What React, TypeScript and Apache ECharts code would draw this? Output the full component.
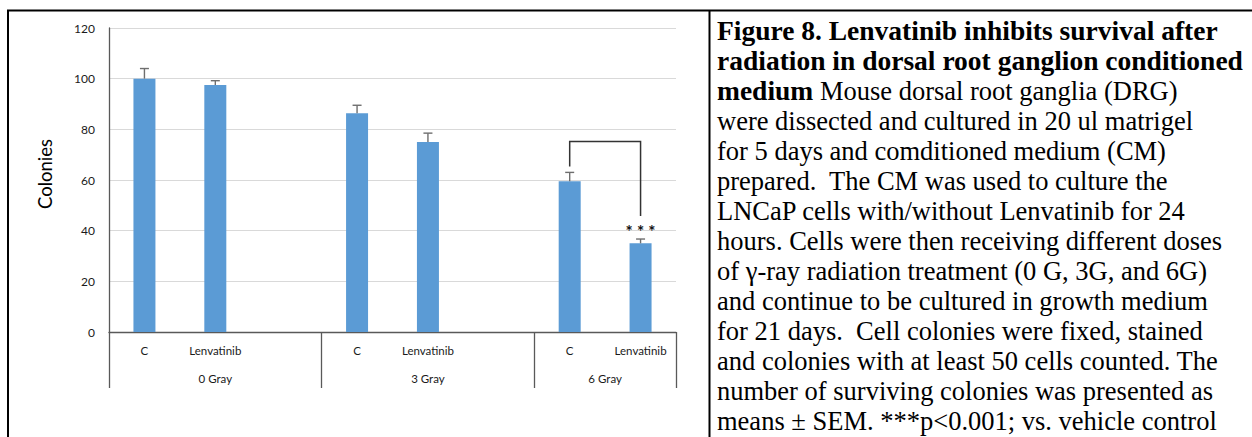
import React, { useEffect, useRef } from "react";
import * as echarts from "echarts";

const categories = ["C", "Lenvatinib", "", "C", "Lenvatinib", "", "C", "Lenvatinib"];
const colonies = [100, 97.5, null, 86.3, 75, null, 59.5, 35];
const sem = [4, 1.7, null, 3.2, 3.5, null, 3.5, 1.7];
const groups = ["0 Gray", "3 Gray", "6 Gray"];
const groupSizes = [3, 3, 2];
const bracketSlots = [6, 7];
const bracketValues = [65.3, 75.2, 45.8];
const significance = "***";
const significanceValue = 40.5;

const captionLines: [string, boolean][][] = [
  [["Figure 8. Lenvatinib inhibits survival after", true]],
  [["radiation in dorsal root ganglion conditioned", true]],
  [["medium", true], [" Mouse dorsal root ganglia (DRG)", false]],
  [["were dissected and cultured in 20 ul matrigel", false]],
  [["for 5 days and comditioned medium (CM)", false]],
  [["prepared.  The CM was used to culture the", false]],
  [["LNCaP cells with/without Lenvatinib for 24", false]],
  [["hours. Cells were then receiving different doses", false]],
  [["of \u03b3-ray radiation treatment (0 G, 3G, and 6G)", false]],
  [["and continue to be cultured in growth medium", false]],
  [["for 21 days.  Cell colonies were fixed, stained", false]],
  [["and colonies with at least 50 cells counted. The", false]],
  [["number of surviving colonies was presented as", false]],
  [["means \u00b1 SEM. ***p<0.001; vs. vehicle control", false]],
];

const SANS = "Lato";
const SERIF = "Liberation Serif";

export default function App() {
  const ref = useRef<HTMLDivElement>(null);
  useEffect(() => {
    if (!ref.current) return;
    const chart = echarts.init(ref.current, null, { renderer: "svg" });

    const bounds: number[] = [0];
    groupSizes.forEach((s) => bounds.push(bounds[bounds.length - 1] + s));
    const centers = groupSizes.map((s, i) => bounds[i] + s / 2);

    const errData: number[][] = [];
    colonies.forEach((v, i) => {
      if (v != null && sem[i] != null) errData.push([i, v, sem[i] as number]);
    });

    const regSize = 26.5;
    const boldSize = 27.5;
    const captionGraphics: any[] = captionLines.map((segs, i) => {
      const y = 30.5 + 30 * i;
      if (segs.length === 1) {
        const [t, bold] = segs[0];
        return {
          type: "text",
          x: 717,
          y,
          style: {
            text: t,
            fontFamily: SERIF,
            fontSize: bold ? boldSize : regSize,
            fontWeight: bold ? "bold" : undefined,
            align: "left",
            verticalAlign: "middle",
            fill: "#000",
          },
        };
      }
      const text = segs.map(([t, bold]) => `{${bold ? "b" : "n"}|${t}}`).join("");
      return {
        type: "text",
        x: 717,
        y,
        style: {
          text,
          rich: {
            b: { fontFamily: SERIF, fontWeight: "bold", fontSize: boldSize, fill: "#000" },
            n: { fontFamily: SERIF, fontSize: regSize, fill: "#000" },
          },
          fontFamily: SERIF,
          fontSize: regSize,
          align: "left",
          verticalAlign: "middle",
          fill: "#000",
        },
      };
    });

    chart.setOption({
      animation: false,
      grid: { left: 109, top: 28, right: 576, bottom: 105, containLabel: false },
      xAxis: [
        {
          type: "category",
          data: categories,
          axisLine: { show: true, lineStyle: { color: "#595959", width: 1.3 } },
          axisTick: { show: false },
          axisLabel: {
            interval: 0,
            margin: 12,
            fontSize: 11.5,
            fontFamily: SANS,
            color: "#1a1a1a",
          },
          splitLine: { show: false },
        },
        {
          type: "value",
          position: "bottom",
          min: 0,
          max: bounds[bounds.length - 1],
          axisLine: { show: false },
          splitLine: { show: false },
          axisTick: {
            show: true,
            customValues: bounds,
            length: 56,
            lineStyle: { color: "#595959", width: 1.3 },
          },
          axisLabel: {
            customValues: centers,
            margin: 40,
            fontSize: 11.5,
            fontFamily: SANS,
            color: "#1a1a1a",
            formatter: (v: number) => {
              const k = centers.findIndex((c) => Math.abs(c - v) < 1e-6);
              return k >= 0 ? groups[k] : "";
            },
          },
        },
      ],
      yAxis: {
        type: "value",
        min: 0,
        max: 120,
        interval: 20,
        axisLine: { show: true, lineStyle: { color: "#595959", width: 1.3 } },
        axisTick: { show: false },
        axisLabel: { margin: 14, fontSize: 12, fontFamily: SANS, color: "#1a1a1a" },
        splitLine: { show: true, lineStyle: { color: "#d9d9d9", width: 1 } },
      },
      series: [
        {
          type: "bar",
          data: colonies.map((v) => (v == null ? "-" : v)),
          barWidth: 22,
          itemStyle: { color: "#5b9bd5" },
          z: 2,
        },
        {
          type: "custom",
          data: errData,
          z: 3,
          renderItem: (params: any, api: any) => {
            const x = api.value(0);
            const v = api.value(1);
            const e = api.value(2);
            const base = api.coord([x, v]);
            const top = api.coord([x, v + e]);
            const st = { stroke: "#6e6e6e", lineWidth: 1.4 };
            return {
              type: "group",
              children: [
                { type: "line", shape: { x1: base[0], y1: base[1], x2: top[0], y2: top[1] }, style: st },
                { type: "line", shape: { x1: top[0] - 4.5, y1: top[1], x2: top[0] + 4.5, y2: top[1] }, style: st },
              ],
            };
          },
        },
        {
          type: "custom",
          data: [[bracketSlots[0], bracketSlots[1], bracketValues[0], bracketValues[1], bracketValues[2], significanceValue]],
          z: 4,
          renderItem: (params: any, api: any) => {
            const a = api.value(0);
            const b = api.value(1);
            const p1 = api.coord([a, api.value(2)]);
            const p2 = api.coord([a, api.value(3)]);
            const p3 = api.coord([b, api.value(3)]);
            const p4 = api.coord([b, api.value(4)]);
            const s = api.coord([b, api.value(5)]);
            return {
              type: "group",
              children: [
                {
                  type: "polyline",
                  shape: { points: [p1, p2, p3, p4] },
                  style: { stroke: "#333333", lineWidth: 1.5, fill: null },
                },
                {
                  type: "text",
                  x: s[0],
                  y: s[1] + 2,
                  style: {
                    text: significance.split("").join(" "),
                    fontFamily: SANS,
                    fontSize: 17,
                    fontWeight: "bold",
                    fill: "#111",
                    align: "center",
                    verticalAlign: "middle",
                  },
                },
              ],
            };
          },
        },
      ],
      graphic: [
        {
          type: "text",
          x: 45,
          y: 174,
          rotation: Math.PI / 2,
          style: {
            text: "Colonies",
            fontFamily: SANS,
            fontSize: 18.5,
            fill: "#000",
            align: "center",
            verticalAlign: "middle",
          },
        },
        { type: "line", shape: { x1: 7, y1: 10.5, x2: 1252, y2: 10.5 }, style: { stroke: "#000", lineWidth: 2 } },
        { type: "line", shape: { x1: 8, y1: 10, x2: 8, y2: 437 }, style: { stroke: "#000", lineWidth: 2 } },
        { type: "line", shape: { x1: 709.5, y1: 10, x2: 709.5, y2: 437 }, style: { stroke: "#000", lineWidth: 2 } },
        ...captionGraphics,
      ],
    });
    return () => chart.dispose();
  }, []);
  return (
    <div
      ref={ref}
      style={{ position: "absolute", left: 0, top: 0, width: 1252, height: 437, background: "#fff" }}
    />
  );
}
